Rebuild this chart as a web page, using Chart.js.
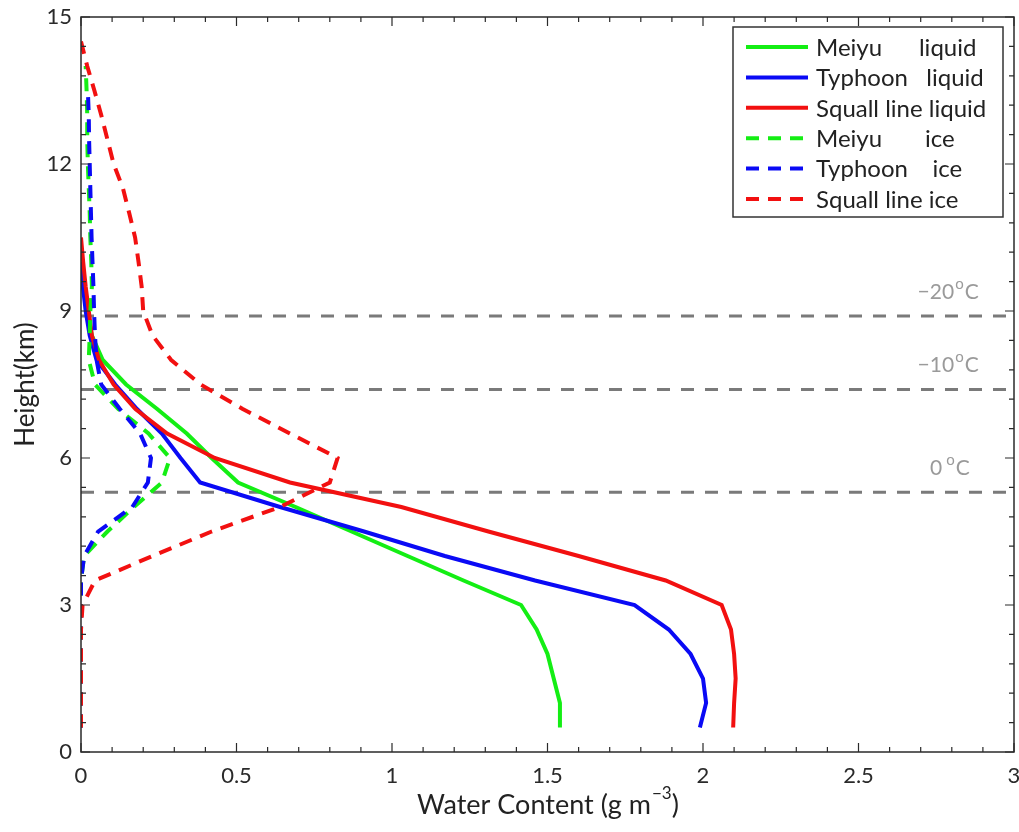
<!DOCTYPE html>
<html>
<head>
<meta charset="utf-8">
<script src="https://cdn.jsdelivr.net/npm/chart.js@4.4.1/dist/chart.umd.min.js"></script>
<style>
  html, body { margin: 0; padding: 0; background: #ffffff; }
  #wrap { width: 1019px; height: 832px; }
</style>
</head>
<body>
<div id="wrap"><canvas id="chart" width="1019" height="832"></canvas></div>
<script>
// heights of the profile levels (km)
const heights = [0.5, 1, 1.5, 2, 2.5, 3, 3.5, 4, 4.5, 5, 5.5, 6, 6.5, 7, 7.5, 8, 8.5, 9, 9.5, 10, 10.5, 11, 11.5, 12, 12.5, 13, 13.5, 14, 14.5];

// water content (g m-3) at each height, null where the profile has no value
const meiyuLiquid   = [1.54, 1.54, 1.52, 1.50, 1.465, 1.415, 1.23, 1.05, 0.87, 0.69, 0.505, 0.42, 0.34, 0.245, 0.145, 0.07, 0.035, 0.02, 0.008, 0, null, null, null, null, null, null, null, null, null];
const typhoonLiquid = [1.99, 2.01, 2.0, 1.96, 1.89, 1.78, 1.46, 1.17, 0.91, 0.64, 0.383, 0.32, 0.26, 0.18, 0.11, 0.05, 0.028, 0.015, 0.006, 0, null, null, null, null, null, null, null, null, null];
const squallLiquid  = [2.097, 2.10, 2.105, 2.10, 2.09, 2.06, 1.88, 1.60, 1.31, 1.03, 0.672, 0.43, 0.277, 0.175, 0.105, 0.058, 0.035, 0.025, 0.015, 0.007, 0, null, null, null, null, null, null, null, null];
const meiyuIce      = [0, 0, 0, 0, 0, 0, 0, 0.01, 0.085, 0.17, 0.26, 0.286, 0.217, 0.12, 0.045, 0.025, 0.028, 0.03, 0.035, 0.033, 0.03, 0.028, 0.025, 0.022, 0.02, 0.02, 0.018, 0.015, null];
const typhoonIce    = [0, 0, 0, 0, 0, 0, 0, 0.01, 0.055, 0.165, 0.215, 0.225, 0.19, 0.125, 0.065, 0.05, 0.045, 0.042, 0.04, 0.037, 0.034, 0.032, 0.03, 0.028, 0.026, 0.025, 0.022, null, null];
const squallIce     = [0, 0, 0, 0, 0, 0.005, 0.045, 0.23, 0.42, 0.64, 0.80, 0.825, 0.672, 0.52, 0.385, 0.29, 0.23, 0.2, 0.195, 0.185, 0.174, 0.155, 0.135, 0.105, 0.085, 0.065, 0.043, 0.02, 0];

const seriesLabels = ['Meiyu      liquid', 'Typhoon   liquid', 'Squall line liquid', 'Meiyu       ice', 'Typhoon    ice', 'Squall line ice'];

// isotherm heights (km) and their labels
const tempLevels = [8.9, 7.4, 5.3];
const tempLabels = ['\u221220', '\u221210', '0'];

const xTicks = [0, 0.5, 1, 1.5, 2, 2.5, 3];
const yTicks = [0, 3, 6, 9, 12, 15];

const GREEN = '#14ee14';
const BLUE = '#0a0af5';
const RED = '#f21010';
const FONT = 'Lato, "DejaVu Sans", sans-serif';

function profile(values) {
    const pts = [];
    heights.forEach((h, i) => {
        if (values[i] !== null) pts.push({ x: values[i], y: h });
    });
    return pts;
}

function lineSet(label, values, color, dashed, order) {
    return {
        label: label,
        data: profile(values),
        showLine: true,
        borderColor: color,
        backgroundColor: color,
        borderWidth: 4,
        borderDash: dashed ? [13, 9] : [],
        pointRadius: 0,
        tension: 0,
        fill: false,
        order: order
    };
}

const datasets = [
    lineSet(seriesLabels[0], meiyuLiquid, GREEN, false, 6),
    lineSet(seriesLabels[1], typhoonLiquid, BLUE, false, 5),
    lineSet(seriesLabels[2], squallLiquid, RED, false, 4),
    lineSet(seriesLabels[3], meiyuIce, GREEN, true, 3),
    lineSet(seriesLabels[4], typhoonIce, BLUE, true, 2),
    lineSet(seriesLabels[5], squallIce, RED, true, 1)
];

tempLevels.forEach(level => {
    datasets.push({
        label: '',
        isotherm: true,
        data: [{ x: 0, y: level }, { x: 3, y: level }],
        showLine: true,
        borderColor: '#7a7a7a',
        borderWidth: 3,
        borderDash: [13, 11],
        pointRadius: 0,
        order: 20
    });
});

// box, inward ticks (matlab style), isotherm labels, legend, x title
const decorPlugin = {
    id: 'decor',
    afterDraw(chart) {
        const ctx = chart.ctx;
        const area = chart.chartArea;
        const xs = chart.scales.x;
        const ys = chart.scales.y;

        ctx.save();
        ctx.strokeStyle = '#2a2a2a';
        ctx.lineWidth = 1.5;
        ctx.strokeRect(area.left, area.top, area.right - area.left, area.bottom - area.top);

        ctx.lineWidth = 1.2;
        ctx.beginPath();
        for (let i = 0; i <= 30; i++) {
            const v = i / 10;
            const len = (i % 5 === 0) ? 9 : 5;
            const px = xs.getPixelForValue(v);
            ctx.moveTo(px, area.bottom); ctx.lineTo(px, area.bottom - len);
            ctx.moveTo(px, area.top); ctx.lineTo(px, area.top + len);
        }
        for (let i = 0; i <= 25; i++) {
            const v = i * 0.6;
            const len = (i % 5 === 0) ? 9 : 5;
            const py = ys.getPixelForValue(v);
            ctx.moveTo(area.left, py); ctx.lineTo(area.left + len, py);
            ctx.moveTo(area.right, py); ctx.lineTo(area.right - len, py);
        }
        ctx.stroke();

        // isotherm labels
        const labelX = [2.69, 2.69, 2.73];
        ctx.fillStyle = '#9a9a9a';
        ctx.textBaseline = 'alphabetic';
        ctx.textAlign = 'left';
        tempLevels.forEach((level, i) => {
            const base = ys.getPixelForValue(level) - 17;
            let x = xs.getPixelForValue(labelX[i]);
            ctx.font = '21px ' + FONT;
            ctx.fillText(tempLabels[i], x, base);
            x += ctx.measureText(tempLabels[i]).width + (i === 2 ? 4 : 1);
            ctx.font = '15px ' + FONT;
            ctx.fillText('o', x, base - 10);
            x += ctx.measureText('o').width + 1;
            ctx.font = '21px ' + FONT;
            ctx.fillText('C', x, base);
        });

        // legend
        const lx = 733, ly = 27, lw = 270, lh = 190;
        ctx.fillStyle = '#ffffff';
        ctx.fillRect(lx, ly, lw, lh);
        ctx.strokeStyle = '#333333';
        ctx.lineWidth = 1.5;
        ctx.strokeRect(lx, ly, lw, lh);
        ctx.font = '24px ' + FONT;
        ctx.textBaseline = 'middle';
        chart.data.datasets.filter(d => !d.isotherm).forEach((d, i) => {
            const y = 47 + i * 30.4;
            ctx.strokeStyle = d.borderColor;
            ctx.lineWidth = 4;
            ctx.setLineDash(d.borderDash);
            ctx.beginPath();
            ctx.moveTo(746, y); ctx.lineTo(808, y);
            ctx.stroke();
            ctx.setLineDash([]);
            ctx.fillStyle = '#222222';
            ctx.fillText(d.label, 816, y + 1);
        });

        // x axis title with superscript
        const main = 'Water Content (g m';
        ctx.textBaseline = 'alphabetic';
        ctx.font = '27px ' + FONT;
        const wMain = ctx.measureText(main).width;
        ctx.font = '17px ' + FONT;
        const wSup = ctx.measureText('\u22123').width;
        ctx.font = '27px ' + FONT;
        const wEnd = ctx.measureText(')').width;
        let tx = (area.left + area.right) / 2 - (wMain + wSup + wEnd) / 2;
        ctx.fillStyle = '#222222';
        ctx.fillText(main, tx, 814);
        tx += wMain + 1;
        ctx.font = '17px ' + FONT;
        ctx.fillText('\u22123', tx, 799);
        tx += wSup;
        ctx.font = '27px ' + FONT;
        ctx.fillText(')', tx, 814);
        ctx.restore();
    }
};

new Chart(document.getElementById('chart'), {
    type: 'scatter',
    data: { datasets: datasets },
    options: {
        responsive: false,
        animation: false,
        devicePixelRatio: 1,
        layout: { padding: { top: 17, right: 5, left: 0, bottom: 0 } },
        plugins: {
            legend: { display: false },
            tooltip: { enabled: false }
        },
        scales: {
            x: {
                type: 'linear',
                min: 0,
                max: 3,
                afterBuildTicks: scale => { scale.ticks = xTicks.map(v => ({ value: v })); },
                afterFit: scale => {
                    scale.height = 80;
                    scale.paddingLeft = 0;
                    scale.paddingRight = 0;
                },
                grid: { display: false, drawTicks: false },
                border: { display: false },
                ticks: {
                    padding: 11,
                    color: '#2a2a2a',
                    font: { family: FONT, size: 22 },
                    maxRotation: 0,
                    callback: v => String(v)
                }
            },
            y: {
                type: 'linear',
                min: 0,
                max: 15,
                afterBuildTicks: scale => { scale.ticks = yTicks.map(v => ({ value: v })); },
                afterFit: scale => {
                    scale.width = 81;
                    scale.paddingTop = 0;
                    scale.paddingBottom = 0;
                },
                grid: { display: false, drawTicks: false },
                border: { display: false },
                title: {
                    display: true,
                    text: 'Height(km)',
                    color: '#222222',
                    font: { family: FONT, size: 26 },
                    padding: { top: 10, bottom: 10 }
                },
                ticks: {
                    padding: 9,
                    color: '#2a2a2a',
                    font: { family: FONT, size: 22 },
                    callback: v => String(v)
                }
            }
        }
    },
    plugins: [decorPlugin]
});
</script>
</body>
</html>
